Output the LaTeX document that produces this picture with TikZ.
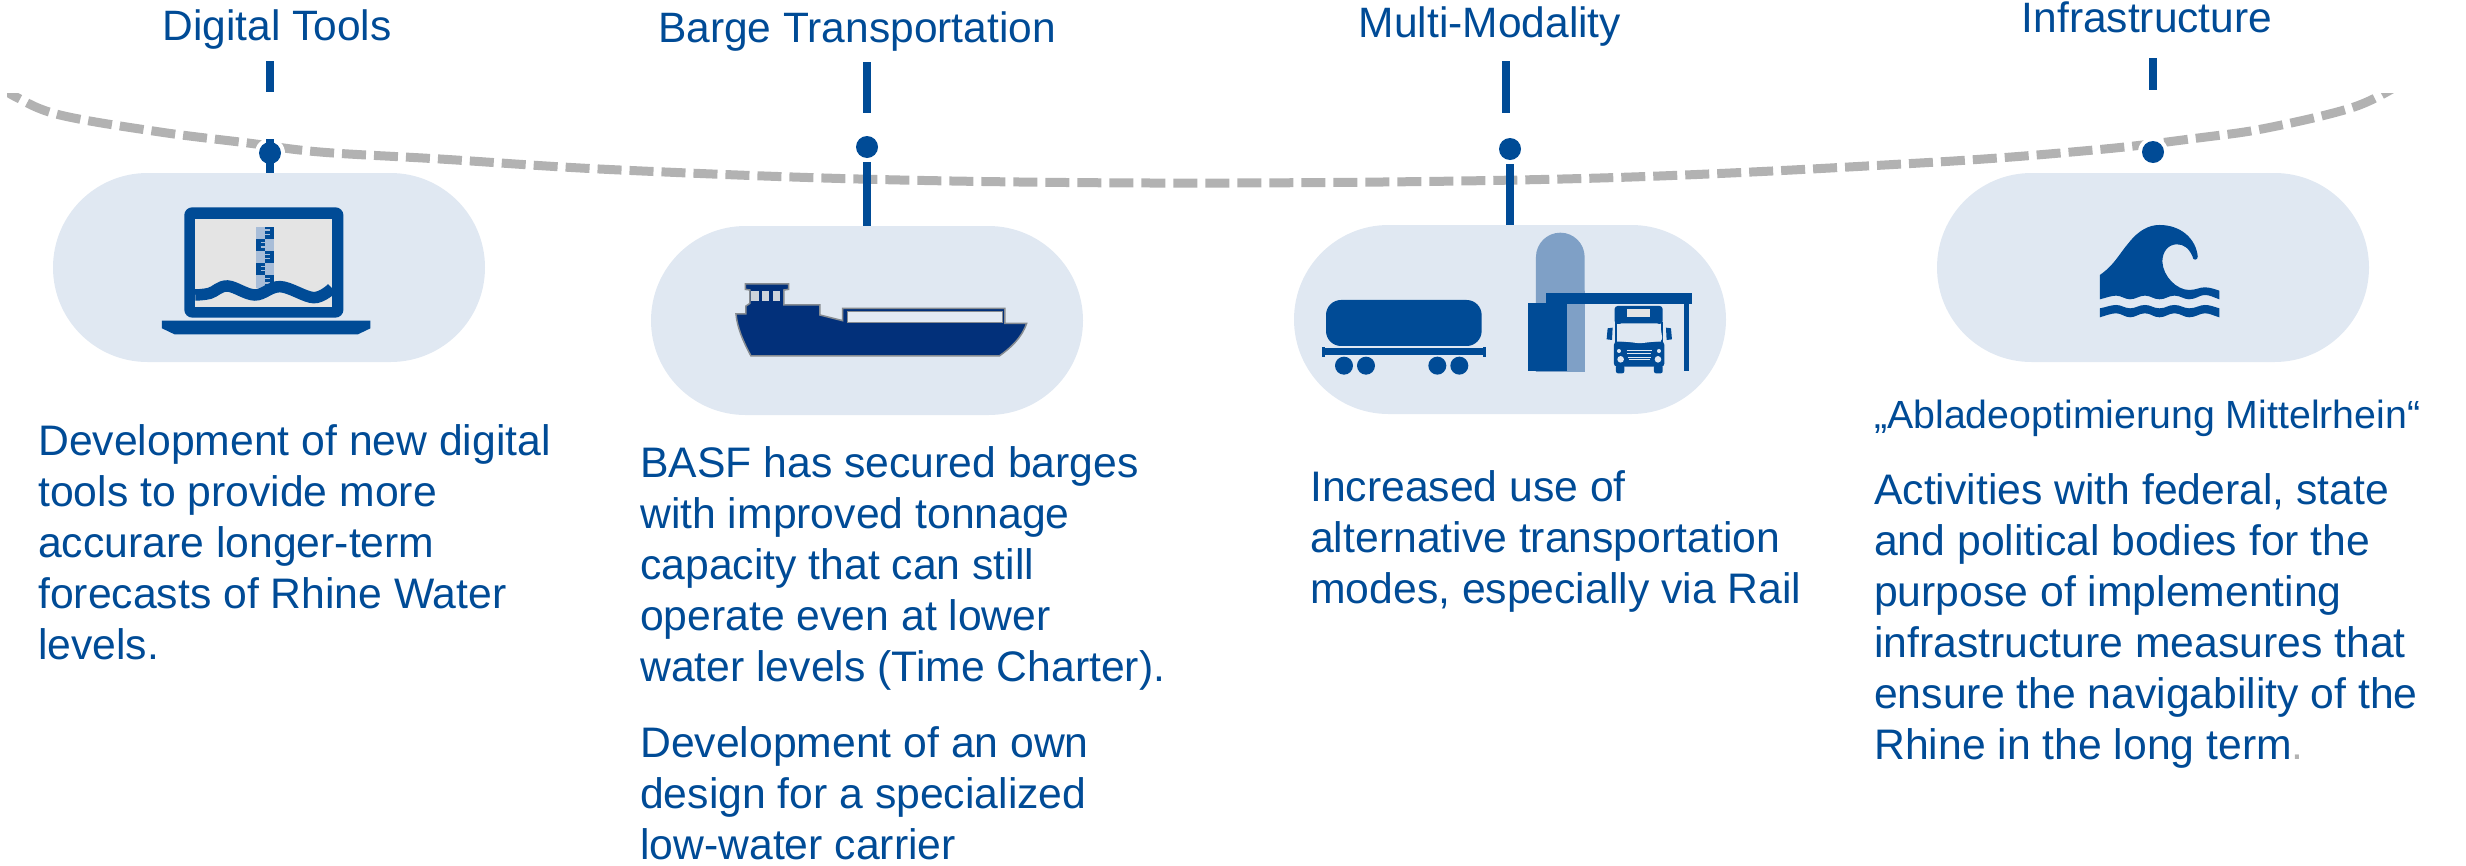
\documentclass[tikz,border=0pt]{standalone}
\usepackage{fontspec}
\setmainfont{Liberation Sans}
\definecolor{basfblue}{HTML}{004B96}
\definecolor{shipblue}{HTML}{02307A}
\definecolor{pillfill}{HTML}{E0E8F2}
\definecolor{curvegray}{HTML}{B2B2B2}
\definecolor{screengray}{HTML}{E4E4E4}
\definecolor{silo}{HTML}{7FA0C6}
\definecolor{rulerlight}{HTML}{A8BDD8}
\tikzset{
  pill/.style={fill=pillfill,draw=none,rounded rectangle,minimum width=432pt,minimum height=189pt,inner sep=0pt,outer sep=0pt},
  dotmark/.style={circle,fill=basfblue,draw=none,minimum size=22pt,inner sep=0pt,outer sep=0pt},
  halo/.style={circle,fill=white,draw=none,minimum size=30pt,inner sep=0pt},
  stem/.style={draw=basfblue,line width=8.3pt},
  head/.style={anchor=base,text=basfblue,font=\fontsize{42.5}{51}\selectfont,inner sep=0pt},
  body/.style={anchor=base west,text=basfblue,font=\fontsize{42.7}{51}\selectfont,inner sep=0pt,align=left},
  bluefill/.style={fill=basfblue,draw=none}
}
\usetikzlibrary{shapes.misc}
\begin{document}
\begin{tikzpicture}[x=1pt,y=-1pt]
\useasboundingbox (0,0) rectangle (2466,865);
% curve
\begin{scope}
\clip (7,93) rectangle (2395,865);
\draw[curvegray,line width=9pt,dash pattern=on 24pt off 8pt]
 plot[smooth,tension=0.6] coordinates {(0,86) (16,97) (60,115) (160,132) (248,143) (320,152) (440,159) (620,170) (900,180) (1230,183) (1600,178) (1920,163) (2094,150) (2198,138) (2267,128) (2354,107) (2400,84)};
\end{scope}
% pills
\node[pill] (pill1) at (269,267.5) {};
\node[pill] (pill2) at (867,320.5) {};
\node[pill] (pill3) at (1510,319.5) {};
\node[pill] (pill4) at (2153,267.5) {};
% halos
\node[halo] (halo1) at (270,153) {};
\node[halo] (halo4) at (2153,152) {};
% ticks and stems
\coordinate (t1a) at (270,61); \coordinate (t1b) at (270,92);
\coordinate (t2a) at (867,62); \coordinate (t2b) at (867,113);
\coordinate (t3a) at (1506,61); \coordinate (t3b) at (1506,113);
\coordinate (t4a) at (2153,58); \coordinate (t4b) at (2153,90);
\coordinate (s1) at (270,139);
\node[dotmark] (dot1) at (270,153) {};
\node[dotmark] (dot2) at (867,147) {};
\node[dotmark] (dot3) at (1510,149) {};
\node[dotmark] (dot4) at (2153,152) {};
\draw[stem] (t1a) -- (t1b);
\draw[stem] (t2a) -- (t2b);
\draw[stem] (t3a) -- (t3b);
\draw[stem] (t4a) -- (t4b);
\draw[stem] (s1) -- (s1 |- pill1.north);
\coordinate (s2) at (867,162);
\coordinate (s3) at (1510,164);
\draw[stem] (s2) -- (s2 |- pill2.north);
\draw[stem] (s3) -- (s3 |- pill3.north);
% laptop
\begin{scope}[shift={(2,0)},x=0.392pt,y=-0.3333pt]
\fill[basfblue,rounded corners=8pt] (465,953) -- (465,622) -- (871,622) -- (871,953) -- cycle;
\fill[screengray] (493,657) rectangle (842,920);
\fill[rulerlight] (647,680) rectangle (695,865);
\fill[basfblue] (670,680) rectangle (695,717);
\fill[basfblue] (647,717) rectangle (672,752);
\fill[basfblue] (670,752) rectangle (695,788);
\fill[basfblue] (647,788) rectangle (672,825);
\fill[basfblue] (670,825) rectangle (695,865);
\foreach \yy in {690,703,763,776,836,849} \draw[rulerlight,line width=1.2pt] (672,\yy)--(684,\yy);
\foreach \yy in {728,741,799,812} \draw[rulerlight,line width=1.2pt] (660,\yy)--(672,\yy);
\draw[basfblue,line width=11.5pt] plot[smooth,tension=0.6] coordinates {(493,885) (530,880) (575,858) (645,885) (710,860) (795,893) (842,865)};
\fill[basfblue] (408,962) -- (940,962) -- (940,985) -- (908,1003) -- (440,1003) -- (408,985) -- cycle;
\end{scope}
% ship
\begin{scope}[shift={(640,200)},x=0.3333pt,y=-0.3333pt]
\draw[draw=black!40!pillfill,line width=1.5pt,fill=shipblue]
 (288,342)--(318,342)--(318,318)--(330,310)--(330,270)--(316,268)--(316,252)--(446,252)--(446,268)--(432,270)--(432,315)--(540,315)--(540,345)--(608,362)--(608,325)--(1095,325)--(1095,370)--(1160,370)
 .. controls (1145,415) and (1110,445) .. (1078,468) -- (333,468) .. controls (310,425) and (292,385) .. (288,342) -- cycle;
\fill[pillfill!90!white,draw=black!40!pillfill,line width=1pt] (622,336) rectangle (1087,368);
\foreach \xx in {334,366,398} \fill[pillfill!80!gray] (\xx,272) rectangle ++(22,30);
\end{scope}
% train and truck
\begin{scope}[shift={(1270,200)},x=0.3333pt,y=-0.3333pt]
\fill[basfblue,rounded corners=15pt] (168,300) rectangle (635,438);
\fill[basfblue] (160,443) rectangle (645,465);
\fill[basfblue] (156,440) rectangle (166,470);
\fill[basfblue] (638,440) rectangle (648,470);
\foreach \xx in {222,288,502,568} \fill[basfblue] (\xx,497) circle (9pt);
\fill[silo] (798,516) -- (798,171) arc[start angle=180,end angle=360,x radius=73,y radius=73] -- (945,516) -- cycle;
\fill[basfblue] (774,309) rectangle (891,513);
\fill[basfblue] (828,279) rectangle (1266,312);
\fill[basfblue] (1242,312) rectangle (1257,513);
% truck
\fill[basfblue,rounded corners=3pt] (1034,372) -- (1034,318) -- (1178,318) -- (1178,372) -- cycle;
\fill[screengray] (1071,327) rectangle (1140,352);
\fill[basfblue,rounded corners=3pt] (1032,500) -- (1032,425) -- (1183,425) -- (1183,500) -- cycle;
\fill[basfblue] (1034,365) rectangle (1040,430);
\fill[basfblue] (1172,365) rectangle (1180,430);
\fill[pillfill,rounded corners=3pt] (1046,370) -- (1170,370) -- (1178,422) -- (1110,430) -- (1040,422) -- cycle;
\fill[basfblue] (1013,385) -- (1028,383) -- (1026,420) -- (1010,418) -- cycle;
\fill[basfblue] (1188,383) -- (1203,385) -- (1206,418) -- (1190,420) -- cycle;
\fill[basfblue,rounded corners=2pt] (1038,495) rectangle (1063,520);
\fill[basfblue,rounded corners=2pt] (1152,495) rectangle (1178,520);
\foreach \xx in {1052,1164} \fill[pillfill] (\xx,478) circle (3.3pt);
\foreach \xx in {1047,1167} \fill[pillfill] (\xx,453) circle (2pt);
\draw[pillfill,line width=1pt] (1070,452)--(1146,452) (1072,462)--(1144,462) (1074,472)--(1142,472) (1076,480)--(1140,480);
\end{scope}
% wave
\begin{scope}[shift={(1920,0)},x=0.3472pt,y=-0.3333pt]
\fill[basfblue] (518,825) .. controls (560,795) and (575,760) .. (600,730)
 .. controls (630,690) and (660,675) .. (690,675)
 .. controls (750,675) and (795,715) .. (800,770)
 .. controls (800,782) and (785,782) .. (785,770)
 .. controls (775,745) and (760,733) .. (740,733)
 .. controls (715,733) and (698,755) .. (698,785)
 .. controls (700,830) and (740,870) .. (775,870)
 .. controls (795,870) and (805,862) .. (820,862)
 .. controls (835,862) and (850,868) .. (862,872)
 -- (862,898) .. controls (845,892) and (835,885) .. (820,885)
 .. controls (805,885) and (795,898) .. (775,898)
 .. controls (760,898) and (750,887) .. (733,887)
 .. controls (715,887) and (708,898) .. (690,898)
 .. controls (672,898) and (665,887) .. (648,887)
 .. controls (630,887) and (622,898) .. (605,898)
 .. controls (590,898) and (580,887) .. (565,887)
 .. controls (550,887) and (535,894) .. (518,898) -- cycle;
\fill[basfblue] (518,925) .. controls (535,922) and (550,915) .. (565,915)
 .. controls (580,915) and (590,925) .. (605,925)
 .. controls (622,925) and (630,915) .. (648,915)
 .. controls (665,915) and (672,925) .. (690,925)
 .. controls (708,925) and (715,915) .. (733,915)
 .. controls (750,915) and (760,925) .. (775,925)
 .. controls (795,925) and (805,915) .. (820,915)
 .. controls (835,915) and (845,920) .. (862,925)
 -- (862,952) .. controls (845,947) and (835,940) .. (820,940)
 .. controls (805,940) and (795,952) .. (775,952)
 .. controls (760,952) and (750,940) .. (733,940)
 .. controls (715,940) and (708,952) .. (690,952)
 .. controls (672,952) and (665,940) .. (648,940)
 .. controls (630,940) and (622,952) .. (605,952)
 .. controls (590,952) and (580,940) .. (565,940)
 .. controls (550,940) and (535,947) .. (518,952) -- cycle;
\end{scope}
% text
\node[head] (h1) at (277,40) {Digital Tools};
\node[head] (h2) at (857,42) {Barge Transportation};
\node[head] (h3) at (1490,37) {Multi-Modality};
\node[head] (h4) at (2147,32) {Infrastructure};
\node[body,anchor=north west] (b1) at (38,420) {\strut Development of new digital\\\strut tools to provide more\\\strut accurare longer-term\\\strut forecasts of Rhine Water\\\strut levels.};
\node[body,anchor=north west] (b2a) at (640,442) {\strut BASF has secured barges\\\strut with improved tonnage\\\strut capacity that can still\\\strut operate even at lower\\\strut water levels (Time Charter).};
\node[body,anchor=north west] (b2b) at (640,722) {\strut Development of an own\\\strut design for a specialized\\\strut low-water carrier};
\node[body,anchor=north west] (b3) at (1310,466) {\strut Increased use of\\\strut alternative transportation\\\strut modes, especially via Rail};
\node[body,anchor=north west,font=\fontsize{39.3}{51}\selectfont] (b4a) at (1874,393) {\strut „Abladeoptimierung Mittelrhein“};
\node[body,anchor=north west] (b4b) at (1874,469) {\strut Activities with federal, state\\\strut and political bodies for the\\\strut purpose of implementing\\\strut infrastructure measures that\\\strut ensure the navigability of the\\\strut Rhine in the long term\textcolor{curvegray}{.}};
\end{tikzpicture}
\end{document}
